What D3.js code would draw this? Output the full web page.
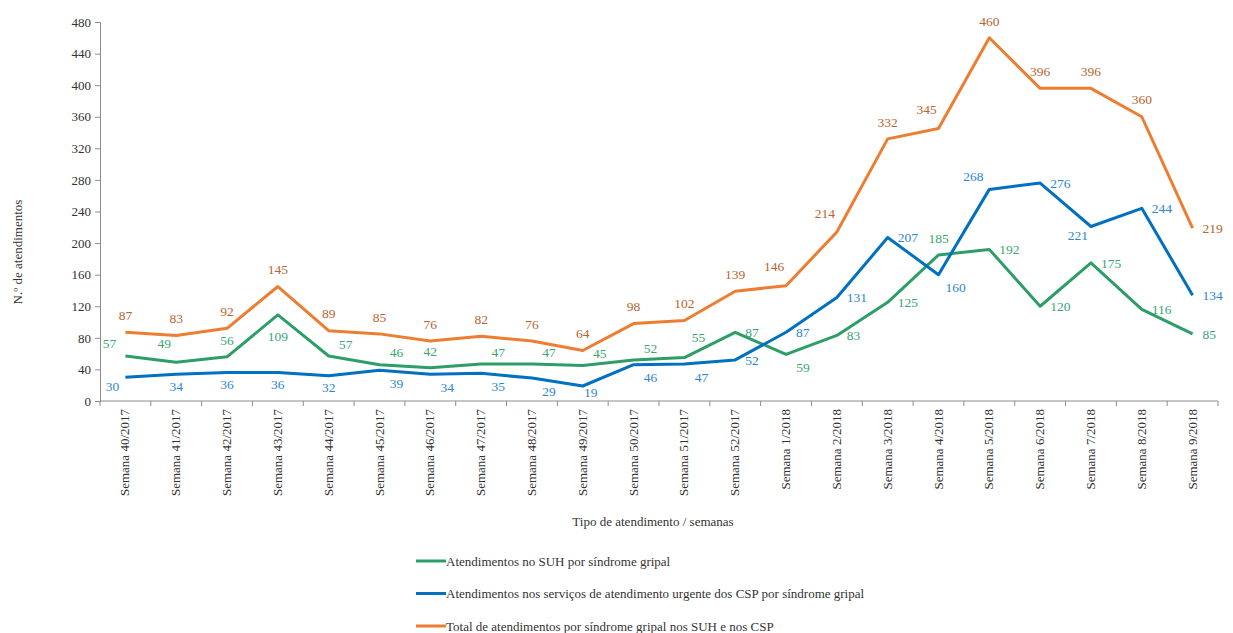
<!DOCTYPE html>
<html>
<head>
<meta charset="utf-8">
<script src="https://cdn.jsdelivr.net/npm/d3@7"></script>
<style>
  body { margin: 0; background: #fff; }
  svg text { font-family: "Liberation Serif", "Times New Roman", "DejaVu Serif", serif !important; }
</style>
</head>
<body>
<script>
// Data
let weeks = [
  "Semana 40/2017", "Semana 41/2017", "Semana 42/2017", "Semana 43/2017",
  "Semana 44/2017", "Semana 45/2017", "Semana 46/2017", "Semana 47/2017",
  "Semana 48/2017", "Semana 49/2017", "Semana 50/2017", "Semana 51/2017",
  "Semana 52/2017", "Semana 1/2018", "Semana 2/2018", "Semana 3/2018",
  "Semana 4/2018", "Semana 5/2018", "Semana 6/2018", "Semana 7/2018",
  "Semana 8/2018", "Semana 9/2018"
];
let suh = [57, 49, 56, 109, 57, 46, 42, 47, 47, 45, 52, 55, 87, 59, 83, 125, 185, 192, 120, 175, 116, 85];
let csp = [30, 34, 36, 36, 32, 39, 34, 35, 29, 19, 46, 47, 52, 87, 131, 207, 160, 268, 276, 221, 244, 134];
let total = [87, 83, 92, 145, 89, 85, 76, 82, 76, 64, 98, 102, 139, 146, 214, 332, 345, 460, 396, 396, 360, 219];
let yTicks = [0, 40, 80, 120, 160, 200, 240, 280, 320, 360, 400, 440, 480];

// where each value label sits relative to its point
let suhPos = ["l", "tl", "t", "bb", "tr", "tr", "t", "tr", "tr", "tr", "tr", "tt", "r", "br", "r", "r", "t", "r", "r", "r", "r", "r"];
let cspPos = ["bl", "b", "b", "b", "b", "br", "br", "br", "br", "rb", "br", "br", "r", "r", "r", "r", "br", "l", "r", "bl", "r", "r"];
let totalPos = ["t", "t", "t", "t", "t", "t", "t", "t", "t", "t", "t", "t", "t", "tl", "tl", "t", "tl", "t", "t", "t", "t", "r"];

let w = 1233;
let h = 633;
let m = { left: 100, right: 1218, top: 22, bottom: 401 };

let series = [
  { name: "Atendimentos no SUH por síndrome gripal", values: suh, pos: suhPos, color: "#2e9e68", label: "#3aa573" },
  { name: "Atendimentos nos serviços de atendimento urgente dos CSP por síndrome gripal", values: csp, pos: cspPos, color: "#0070c0", label: "#2e86cf" },
  { name: "Total de atendimentos por síndrome gripal nos SUH e nos CSP", values: total, pos: totalPos, color: "#ed7d31", label: "#b8652f" }
];

let offsets = {
  t: [0, -17, "middle"],
  b: [0, 12, "middle"],
  bb: [0, 21, "middle"],
  r: [10, 0, "start"],
  rb: [8, 6, "middle"],
  tr: [17, -12, "middle"],
  tt: [14, -20, "middle"],
  br: [17, 13, "middle"],
  bl: [-13, 9, "middle"],
  tl: [-12, -19, "middle"],
  l: [-16, -13, "middle"]
};

let xScale = d3.scaleBand().domain(weeks).range([m.left, m.right]);
let yScale = d3.scaleLinear().domain([0, 480]).range([m.bottom, m.top]);

let svg = d3.select("body").append("svg").attr("width", w).attr("height", h);

// Y axis
let yAxis = d3.axisLeft(yScale).tickValues(yTicks).tickSize(5).tickPadding(4);
let gy = svg.append("g")
  .attr("transform", "translate(" + m.left + ",0)")
  .call(yAxis)
  .attr("font-family", null);
gy.selectAll("path, line").attr("stroke", "#8c8c8c");
gy.selectAll("text").attr("font-size", "13px").attr("fill", "#333");

// X axis: ticks on band boundaries
let gx = svg.append("g").attr("transform", "translate(0," + m.bottom + ")");
gx.append("line")
  .attr("x1", m.left).attr("x2", m.right)
  .attr("stroke", "#8c8c8c");
let bounds = weeks.map((d) => xScale(d)).concat([m.right]);
gx.selectAll("line.tick")
  .data(bounds)
  .enter()
  .append("line")
  .attr("class", "tick")
  .attr("x1", (d) => d).attr("x2", (d) => d)
  .attr("y1", 0).attr("y2", 5)
  .attr("stroke", "#8c8c8c");
gx.selectAll("text")
  .data(weeks)
  .enter()
  .append("text")
  .text((d) => d)
  .attr("transform", (d) => "translate(" + (xScale(d) + xScale.bandwidth() / 2 + 4) + ",8) rotate(-90)")
  .attr("text-anchor", "end")
  .attr("font-size", "13px")
  .attr("fill", "#333");

// Axis titles
svg.append("text")
  .text("N.º de atendimentos")
  .attr("transform", "translate(22,252) rotate(-90)")
  .attr("text-anchor", "middle")
  .attr("font-size", "13px")
  .attr("fill", "#333");
svg.append("text")
  .text("Tipo de atendimento  /  semanas")
  .attr("x", 653)
  .attr("y", 526)
  .attr("text-anchor", "middle")
  .attr("font-size", "13px")
  .attr("fill", "#333");

// Lines
let line = d3.line()
  .x((d, i) => xScale(weeks[i]) + xScale.bandwidth() / 2)
  .y((d) => yScale(d));

series.forEach((s) => {
  svg.append("path")
    .datum(s.values)
    .attr("d", line)
    .attr("fill", "none")
    .attr("stroke", s.color)
    .attr("stroke-width", 3)
    .attr("stroke-linejoin", "round");
});

// Value labels
series.forEach((s) => {
  svg.append("g")
    .selectAll("text")
    .data(s.values)
    .enter()
    .append("text")
    .text((d) => d)
    .attr("x", (d, i) => xScale(weeks[i]) + xScale.bandwidth() / 2 + offsets[s.pos[i]][0])
    .attr("y", (d, i) => yScale(d) + offsets[s.pos[i]][1])
    .attr("dy", "0.35em")
    .attr("text-anchor", (d, i) => offsets[s.pos[i]][2])
    .attr("font-size", "13.5px")
    .attr("fill", s.label);
});

// Legend
let legend = svg.append("g")
  .selectAll("g")
  .data(series)
  .enter()
  .append("g")
  .attr("transform", (d, i) => "translate(416," + (561 + i * 32.5) + ")");
legend.append("line")
  .attr("x1", 0).attr("x2", 30)
  .attr("stroke", (d) => d.color)
  .attr("stroke-width", 3);
legend.append("text")
  .text((d) => d.name)
  .attr("x", 30)
  .attr("dy", "0.35em")
  .attr("font-size", "13px")
  .attr("fill", "#333");
</script>
</body>
</html>
